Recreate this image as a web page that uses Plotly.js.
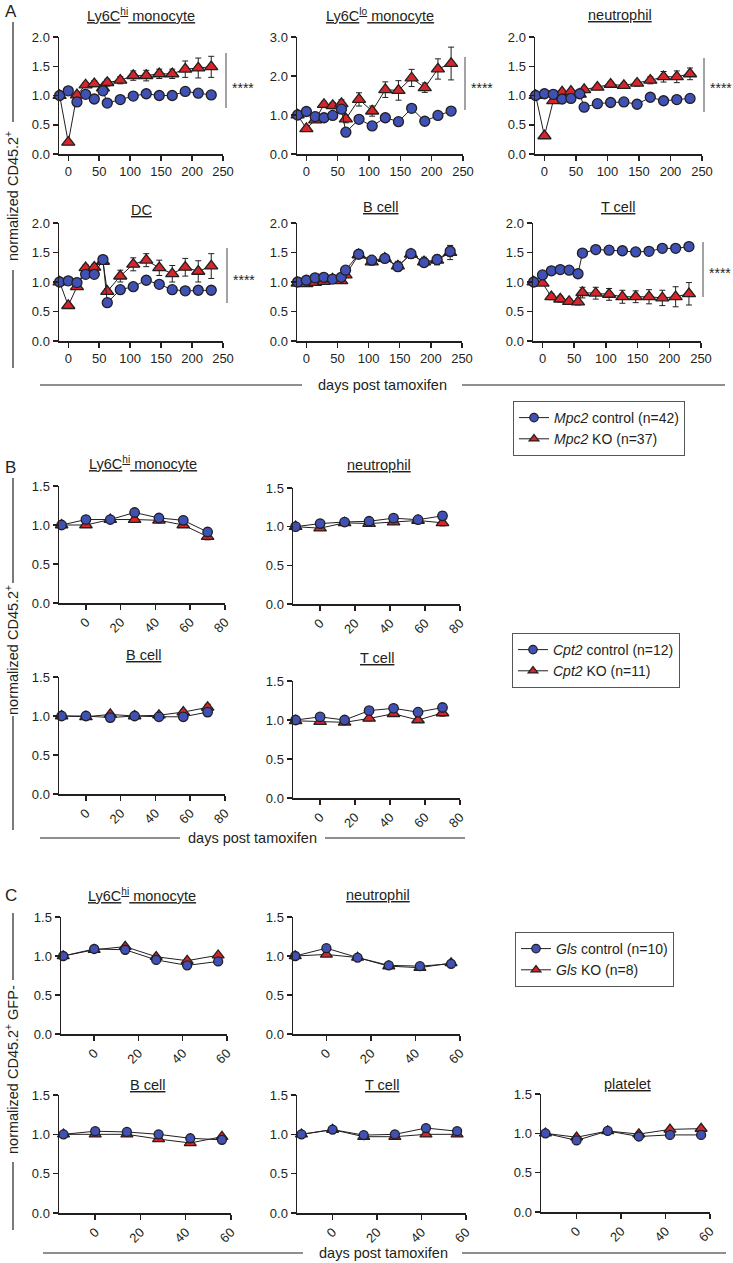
<!DOCTYPE html>
<html><head><meta charset="utf-8">
<script src="https://cdn.plot.ly/plotly-3.0.1.min.js"></script>
<style>body{margin:0;padding:0;background:#fff}#chart{width:733px;height:1263px}</style>
</head><body><div id="chart"></div>
<script>
const W = 733, H = 1263;
const FONT = 'Liberation Sans, Arial, sans-serif';
const INK = '#231f20';
const BLUE = '#3f51b5';
const RED = '#d7262b';

// ---------- DATA ----------
const daysA = [-14, 0, 14, 28, 42, 56, 63, 84, 105, 126, 147, 168, 189, 210, 231];
const daysB = [-14, 0, 14, 28, 42, 56, 70];
const daysC = [-14, 0, 14, 28, 42, 56];
const ticksA = [0, 50, 100, 150, 200, 250];
const ticksB = [0, 20, 40, 60, 80];
const ticksC = [0, 20, 40, 60];

const legendA = ['<i>Mpc2</i> control (n=42)', '<i>Mpc2</i> KO (n=37)'];
const legendB = ['<i>Cpt2</i> control (n=12)', '<i>Cpt2</i> KO (n=11)'];
const legendC = ['<i>Gls</i> control (n=10)', '<i>Gls</i> KO (n=8)'];

// Panel A (Mpc2)
const aLy6ChiCtrl = [1.00,1.08,0.89,1.02,0.94,1.08,0.87,0.93,0.99,1.03,1.00,1.00,1.07,1.04,1.01];
const aLy6ChiKO   = [1.00,0.20,1.01,1.18,1.20,1.13,1.22,1.26,1.34,1.34,1.37,1.37,1.45,1.47,1.49];
const aLy6ChiCtrlErr = [0,0.02,0.03,0.03,0.03,0.03,0.03,0.03,0.03,0.03,0.03,0.03,0.03,0.03,0.03];
const aLy6ChiKOErr   = [0,0.02,0.04,0.04,0.05,0.05,0.06,0.06,0.08,0.09,0.08,0.08,0.14,0.17,0.18];

const aLy6CloCtrl = [1.00,1.09,0.96,0.93,0.99,1.15,0.56,0.89,0.72,0.93,0.83,1.17,0.84,0.99,1.10];
const aLy6CloKO   = [1.00,0.65,0.87,1.27,1.24,1.29,0.90,1.40,1.10,1.65,1.63,1.95,1.70,2.18,2.32];
const aLy6CloCtrlErr = [0,0.03,0.04,0.04,0.04,0.05,0.05,0.05,0.05,0.05,0.05,0.06,0.05,0.05,0.05];
const aLy6CloKOErr   = [0,0.06,0.06,0.08,0.08,0.10,0.10,0.17,0.13,0.20,0.25,0.22,0.12,0.26,0.42];

const aNeuCtrl = [1.00,1.03,1.02,0.94,0.95,1.03,0.80,0.86,0.88,0.89,0.85,0.97,0.91,0.93,0.95];
const aNeuKO   = [1.00,0.31,0.91,1.06,1.07,1.02,1.10,1.14,1.19,1.17,1.21,1.26,1.32,1.32,1.37];
const aNeuCtrlErr = [0,0.02,0.02,0.02,0.02,0.02,0.02,0.02,0.02,0.02,0.02,0.03,0.03,0.03,0.03];
const aNeuKOErr   = [0,0.02,0.03,0.03,0.03,0.04,0.04,0.04,0.04,0.05,0.05,0.06,0.09,0.10,0.10];

const aDCCtrl = [1.00,1.02,0.99,1.13,1.13,1.38,0.65,0.87,0.92,1.03,0.96,0.87,0.85,0.86,0.86];
const aDCKO   = [1.00,0.60,0.92,1.24,1.25,1.35,0.84,1.10,1.30,1.37,1.24,1.14,1.25,1.18,1.27];
const aDCCtrlErr = [0,0.02,0.03,0.03,0.03,0.04,0.03,0.03,0.03,0.03,0.03,0.03,0.03,0.03,0.03];
const aDCKOErr   = [0,0.03,0.04,0.05,0.05,0.05,0.05,0.10,0.11,0.11,0.13,0.14,0.15,0.18,0.21];

const aBCtrl = [1.00,1.03,1.07,1.08,1.05,1.08,1.20,1.47,1.37,1.40,1.26,1.48,1.33,1.38,1.52];
const aBKO   = [0.98,0.97,0.99,1.01,1.05,1.02,1.12,1.46,1.34,1.40,1.27,1.47,1.34,1.37,1.50];
const aBCtrlErr = [0,0.03,0.03,0.03,0.03,0.04,0.04,0.04,0.05,0.05,0.06,0.07,0.06,0.08,0.09];
const aBKOErr   = [0,0.03,0.03,0.03,0.03,0.04,0.04,0.05,0.05,0.05,0.08,0.07,0.08,0.08,0.12];

const aTCtrl = [1.00,1.12,1.19,1.21,1.20,1.14,1.49,1.55,1.54,1.53,1.51,1.52,1.57,1.57,1.60];
const aTKO   = [1.00,0.98,0.75,0.71,0.67,0.66,0.82,0.81,0.79,0.75,0.75,0.75,0.73,0.75,0.80];
const aTCtrlErr = [0,0.03,0.03,0.03,0.03,0.03,0.04,0.05,0.05,0.06,0.05,0.06,0.06,0.06,0.06];
const aTKOErr   = [0,0.03,0.05,0.05,0.05,0.05,0.09,0.10,0.10,0.11,0.10,0.12,0.13,0.17,0.19];

// Panel B (Cpt2)
const bLy6ChiCtrl = [1.00,1.07,1.07,1.16,1.09,1.06,0.91];
const bLy6ChiKO   = [1.00,1.00,1.07,1.07,1.06,1.00,0.85];
const bNeuCtrl = [1.00,1.04,1.06,1.07,1.11,1.09,1.14];
const bNeuKO   = [1.00,0.98,1.05,1.04,1.06,1.08,1.05];
const bBCtrl = [1.00,1.00,0.98,1.00,0.99,0.99,1.05];
const bBKO   = [1.00,0.99,1.02,1.00,1.01,1.05,1.11];
const bTCtrl = [1.00,1.04,1.00,1.12,1.15,1.10,1.16];
const bTKO   = [0.99,0.98,0.97,1.02,1.08,1.00,1.09];
const bCtrlErr = [0,0.03,0.03,0.04,0.04,0.05,0.05];
const bKOErr   = [0,0.03,0.02,0.03,0.03,0.03,0.04];

// Panel C (Gls)
const cLy6ChiCtrl = [1.00,1.09,1.08,0.95,0.88,0.93];
const cLy6ChiKO   = [1.00,1.08,1.12,0.99,0.94,1.01];
const cNeuCtrl = [1.00,1.10,0.98,0.88,0.87,0.90];
const cNeuKO   = [1.00,1.02,0.98,0.87,0.85,0.91];
const cBCtrl = [1.00,1.04,1.03,1.00,0.95,0.93];
const cBKO   = [1.00,1.00,1.00,0.94,0.89,0.97];
const cTCtrl = [1.00,1.06,0.99,1.00,1.08,1.04];
const cTKO   = [1.00,1.06,0.97,0.97,1.00,1.00];
const cPltCtrl = [1.00,0.91,1.03,0.96,0.98,0.98];
const cPltKO   = [1.00,0.95,1.03,0.99,1.05,1.06];
const cCtrlErr = [0,0.02,0.02,0.02,0.02,0.02];
const cKOErr   = [0,0.02,0.02,0.02,0.02,0.02];

// ---------- BUILD ----------
const fx = px => px / W;
const fy = py => 1 - py / H;
const traces = [];
const annotations = [];
const shapes = [];
const layout = {
  width: W, height: H,
  margin: {l: 0, r: 0, t: 0, b: 0},
  paper_bgcolor: '#fff', plot_bgcolor: 'rgba(0,0,0,0)',
  font: {family: FONT, size: 13, color: INK},
  showlegend: true,
  annotations, shapes
};
let n = 0;

function panel(o) {
  n++;
  const s = n === 1 ? '' : String(n);
  layout['xaxis' + s] = {
    domain: [fx(o.box[0]), fx(o.box[1])], range: o.xr, anchor: 'y' + s,
    tickmode: 'array', tickvals: o.xt, tickangle: o.ta,
    showline: true, linecolor: INK, linewidth: 1.5, ticks: 'outside', ticklen: 5,
    tickwidth: 1.5, tickcolor: INK, showgrid: false, zeroline: false, fixedrange: true,
    tickfont: {size: 13, color: INK}
  };
  layout['yaxis' + s] = {
    domain: [fy(o.box[3]), fy(o.box[2])], range: o.yr, anchor: 'x' + s,
    dtick: o.yd, tick0: 0, tickformat: '.1f',
    showline: true, linecolor: INK, linewidth: 1.5, ticks: 'outside', ticklen: 5,
    tickwidth: 1.5, tickcolor: INK, showgrid: false, zeroline: false, fixedrange: true,
    tickfont: {size: 13, color: INK}
  };
  const common = {type: 'scatter', mode: 'lines+markers', x: o.days, xaxis: 'x' + s, yaxis: 'y' + s,
    line: {color: INK, width: 1}, cliponaxis: false, showlegend: false};
  traces.push(Object.assign({}, common, {
    y: o.ko, name: o.names[1],
    marker: {symbol: 'triangle-up', size: o.ms + 1.5, color: RED, line: {color: INK, width: 1.3}},
    error_y: {type: 'data', array: o.koErr, visible: true, color: INK, thickness: 1, width: 3}
  }));
  traces.push(Object.assign({}, common, {
    y: o.ctrl, name: o.names[0],
    marker: {symbol: 'circle', size: o.ms, color: BLUE, line: {color: INK, width: 1.3}},
    error_y: {type: 'data', array: o.ctrlErr, visible: true, color: INK, thickness: 1, width: 3}
  }));
  if (o.show) {
    // legend-only entries (no data points drawn)
    const lc = {type: 'scatter', mode: 'lines+markers', x: [null], y: [null], xaxis: 'x' + s, yaxis: 'y' + s,
      line: {color: INK, width: 1}, legend: o.leg, showlegend: true};
    traces.push(Object.assign({}, lc, {name: o.names[0], legendrank: 1,
      marker: {symbol: 'circle', size: 8.5, color: BLUE, line: {color: INK, width: 1.2}}}));
    traces.push(Object.assign({}, lc, {name: o.names[1], legendrank: 2,
      marker: {symbol: 'triangle-up', size: 8.5, color: RED, line: {color: INK, width: 1.2}}}));
  }
  annotations.push({text: '<u>' + o.title + '</u>', x: fx(o.tx), y: fy(o.ty), xref: 'paper', yref: 'paper',
    showarrow: false, xanchor: 'center', yanchor: 'middle', font: {size: 14.5, color: INK}});
}

// Panel A
const A = {xr: [-15, 250], xt: ticksA, ta: 0, days: daysA, ms: 10, names: legendA, leg: 'legend'};
panel(Object.assign({}, A, {box: [59, 223, 37, 154], yr: [0, 2], yd: 0.5, ctrl: aLy6ChiCtrl, ko: aLy6ChiKO, ctrlErr: aLy6ChiCtrlErr, koErr: aLy6ChiKOErr, title: 'Ly6C<sup>hi</sup> monocyte', tx: 141, ty: 15, show: true}));
panel(Object.assign({}, A, {box: [297, 463, 37, 154], yr: [0, 3], yd: 1, ctrl: aLy6CloCtrl, ko: aLy6CloKO, ctrlErr: aLy6CloCtrlErr, koErr: aLy6CloKOErr, title: 'Ly6C<sup>lo</sup> monocyte', tx: 380, ty: 15}));
panel(Object.assign({}, A, {box: [535, 702, 37, 154], yr: [0, 2], yd: 0.5, ctrl: aNeuCtrl, ko: aNeuKO, ctrlErr: aNeuCtrlErr, koErr: aNeuKOErr, title: 'neutrophil', tx: 620, ty: 15}));
panel(Object.assign({}, A, {box: [59, 223, 223, 341], yr: [0, 2], yd: 0.5, ctrl: aDCCtrl, ko: aDCKO, ctrlErr: aDCCtrlErr, koErr: aDCKOErr, title: 'DC', tx: 141, ty: 210}));
panel(Object.assign({}, A, {box: [297, 462, 223, 341], yr: [0, 2], yd: 0.5, ctrl: aBCtrl, ko: aBKO, ctrlErr: aBCtrlErr, koErr: aBKOErr, title: 'B cell', tx: 380, ty: 207}));
panel(Object.assign({}, A, {box: [533, 701, 223, 341], yr: [0, 2], yd: 0.5, ctrl: aTCtrl, ko: aTKO, ctrlErr: aTCtrlErr, koErr: aTKOErr, title: 'T cell', tx: 618, ty: 207}));

// Panel B
const B = {xr: [-15.5, 80], xt: ticksB, ta: -45, days: daysB, ms: 9.5, names: legendB, leg: 'legend2', yr: [0, 1.5], yd: 0.5, ctrlErr: bCtrlErr, koErr: bKOErr};
panel(Object.assign({}, B, {box: [59, 225, 486, 603], ctrl: bLy6ChiCtrl, ko: bLy6ChiKO, title: 'Ly6C<sup>hi</sup> monocyte', tx: 143, ty: 463, show: true}));
panel(Object.assign({}, B, {box: [293, 460, 488, 604], ctrl: bNeuCtrl, ko: bNeuKO, title: 'neutrophil', tx: 379, ty: 465}));
panel(Object.assign({}, B, {box: [59, 225, 677, 794], ctrl: bBCtrl, ko: bBKO, title: 'B cell', tx: 143, ty: 655}));
panel(Object.assign({}, B, {box: [293, 460, 681, 798], ctrl: bTCtrl, ko: bTKO, title: 'T cell', tx: 377, ty: 658}));

// Panel C
const C = {xt: ticksC, ta: -45, days: daysC, ms: 9, names: legendC, leg: 'legend3', yr: [0, 1.5], yd: 0.5, ctrlErr: cCtrlErr, koErr: cKOErr};
panel(Object.assign({}, C, {xr: [-15, 60], box: [61, 227, 917, 1034], ctrl: cLy6ChiCtrl, ko: cLy6ChiKO, title: 'Ly6C<sup>hi</sup> monocyte', tx: 142, ty: 895, show: true}));
panel(Object.assign({}, C, {xr: [-15, 60], box: [293, 460, 917, 1034], ctrl: cNeuCtrl, ko: cNeuKO, title: 'neutrophil', tx: 378, ty: 895}));
panel(Object.assign({}, C, {xr: [-16, 60], box: [59, 231, 1095, 1213], ctrl: cBCtrl, ko: cBKO, title: 'B cell', tx: 147, ty: 1085}));
panel(Object.assign({}, C, {xr: [-16, 60], box: [297, 466, 1095, 1213], ctrl: cTCtrl, ko: cTKO, title: 'T cell', tx: 382, ty: 1085}));
panel(Object.assign({}, C, {xr: [-16, 60], box: [541, 710, 1094, 1212], ctrl: cPltCtrl, ko: cPltKO, title: 'platelet', tx: 627, ty: 1084}));

// Text helpers
function txt(t, px, py, size, extra) {
  annotations.push(Object.assign({text: t, x: fx(px), y: fy(py), xref: 'paper', yref: 'paper', showarrow: false,
    xanchor: 'center', yanchor: 'middle', font: {size: size, color: INK}}, extra || {}));
}
function seg(x0, y0, x1, y1, w, c) {
  shapes.push({type: 'line', xref: 'paper', yref: 'paper', x0: fx(x0), y0: fy(y0), x1: fx(x1), y1: fy(y1),
    line: {color: c || INK, width: w || 1.2}});
}

// panel letters
txt('A', 3, 0, 17, {xanchor: 'left', yanchor: 'top'});
txt('B', 3, 456, 17, {xanchor: 'left', yanchor: 'top'});
txt('C', 3, 884, 17, {xanchor: 'left', yanchor: 'top'});

// y-axis titles with side lines
txt('normalized CD45.2<sup>+</sup>', 12, 196, 14.5, {textangle: -90});
seg(13, 22, 13, 122); seg(13, 270, 13, 368);
txt('normalized CD45.2<sup>+</sup>', 12, 650, 14.5, {textangle: -90});
seg(13, 478, 13, 583); seg(13, 716, 13, 830);
txt('normalized CD45.2<sup>+</sup> GFP-', 12, 1070, 14.5, {textangle: -90});
seg(13, 913, 13, 980); seg(13, 1162, 13, 1230);

// x-axis titles with side lines
txt('days post tamoxifen', 382, 385, 14.5);
seg(40, 385, 302, 385); seg(462, 385, 725, 385);
txt('days post tamoxifen', 252, 838, 14.5);
seg(40, 838, 180, 838); seg(325, 838, 465, 838);
txt('days post tamoxifen', 383, 1253, 14.5);
seg(43, 1253, 303, 1253); seg(462, 1253, 726, 1253);

// significance
const SIG = '#666';
seg(226, 53, 226, 108, 1.2, SIG); txt('****', 243, 88, 14);
seg(465, 57, 465, 110, 1.2, SIG); txt('****', 482, 88, 14);
seg(704, 58, 704, 112, 1.2, SIG); txt('****', 721, 88, 14);
seg(227, 248, 227, 303, 1.2, SIG); txt('****', 244, 280, 14);
seg(703, 242, 703, 297, 1.2, SIG); txt('****', 720, 273, 14);

// legends
const legBase = {xanchor: 'left', yanchor: 'top', bordercolor: '#555', borderwidth: 1, bgcolor: 'rgba(0,0,0,0)',
  font: {size: 14, color: INK}, itemwidth: 30, traceorder: 'normal'};
layout.legend = Object.assign({}, legBase, {x: fx(513), y: fy(401)});
layout.legend2 = Object.assign({}, legBase, {x: fx(512), y: fy(633)});
layout.legend3 = Object.assign({}, legBase, {x: fx(515), y: fy(932)});

Plotly.newPlot('chart', traces, layout, {displayModeBar: false, staticPlot: true});
</script></body></html>
